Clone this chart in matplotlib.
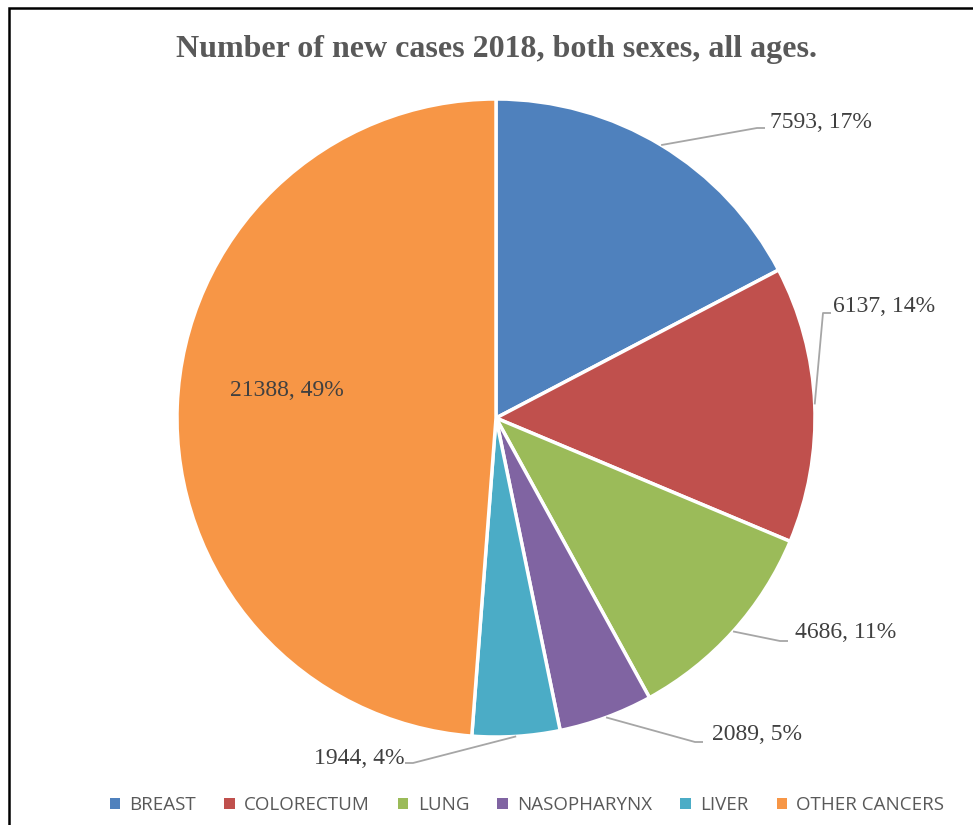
import numpy as np
import matplotlib.pyplot as plt
from matplotlib.patches import Rectangle

# datos
categories = ["BREAST", "COLORECTUM", "LUNG", "NASOPHARYNX", "LIVER", "OTHER CANCERS"]
cases = [7593, 6137, 4686, 2089, 1944, 21388]
percent_labels = ["17%", "14%", "11%", "5%", "4%", "49%"]
colors = ["#4F81BD", "#C0504D", "#9BBB59", "#8064A2", "#4BACC6", "#F79646"]

W, H = 973, 825

def py(y):  # pixel y (desde arriba) -> coordenada del eje
    return H - y

fig = plt.figure(figsize=(W / 100, H / 100), dpi=100)
ax = fig.add_axes([0, 0, 1, 1])

# marco del grafico (cortado a la derecha y abajo)
ax.add_patch(Rectangle((9, -10), W + 20, py(8) + 10, fill=False, edgecolor="black", linewidth=1.8))

cx, cy, r = 496, py(418), 319
wedges, _ = ax.pie(cases, colors=colors, startangle=90, counterclock=False,
                   center=(cx, cy), radius=r, frame=True,
                   wedgeprops=dict(edgecolor="white", linewidth=2.5))
ax.set_xlim(0, W)
ax.set_ylim(0, H)
ax.set_aspect("auto")
ax.axis("off")

# posiciones de etiquetas: (codo x, codo y, texto x, texto y, alineacion)
label_pos = [
    (757, 128, 770, 122, "left"),
    (823, 313, 833, 307, "left"),
    (780, 641, 795, 633, "left"),
    (695, 742, 712, 735, "left"),
    (413, 763, 405, 758, "right"),
    (None, None, 287, 390, "center"),
]

serif = "Liberation Serif"
for w, n, p, (ex, ey, tx, ty, ha) in zip(wedges, cases, percent_labels, label_pos):
    ang = np.deg2rad((w.theta1 + w.theta2) / 2)
    txt = f"{n}, {p}"
    if ex is not None:
        ax0, ay0 = cx + r * np.cos(ang), cy + r * np.sin(ang)
        hx = ex + 8 if ha == "left" else ex - 8
        ax.plot([ax0, ex, hx], [ay0, py(ey), py(ey)], color="#A6A6A6", linewidth=1.3,
                solid_capstyle="butt")
    ax.text(tx, py(ty), txt, ha=ha, va="center", fontsize=17, family=serif, color="#404040")

ax.text(497, py(50), "Number of new cases 2018, both sexes, all ages.", ha="center", va="center",
        fontsize=23, fontweight="bold", family=serif, color="#595959")

handles = [Rectangle((0, 0), 1, 1, facecolor=c) for c in colors]
leg = fig.legend(handles, categories, loc="center", bbox_to_anchor=(527 / W, 1 - 805 / H),
                 ncol=6, frameon=False, handlelength=0.55, handleheight=0.55, handletextpad=0.5,
                 columnspacing=1.5, prop={"family": "Open Sans", "size": 13.5})
for t in leg.get_texts():
    t.set_color("#595959")

fig.savefig("out.png", dpi=100)
